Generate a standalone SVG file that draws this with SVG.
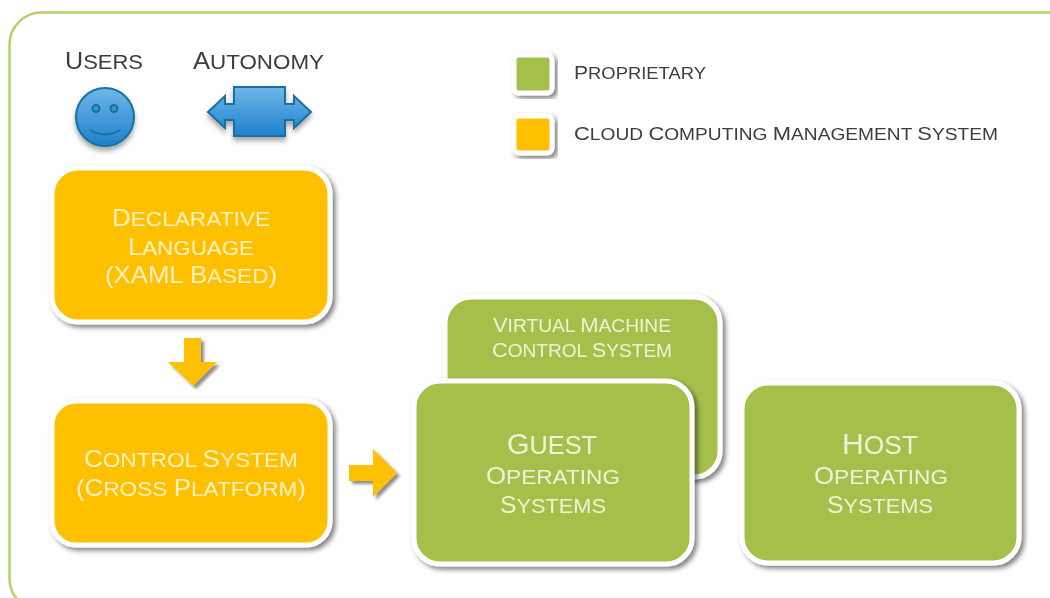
<svg xmlns="http://www.w3.org/2000/svg" width="1050" height="598" viewBox="0 0 1050 598">
<style>
text{font-family:"Liberation Sans",Arial,sans-serif;text-anchor:middle}
.l{font-size:.875em;text-transform:uppercase}
.w{fill:#eef3d8}.y{fill:#fff0c4}
.d{fill:#3c3c3c;text-anchor:start}
.card{stroke:#fff;stroke-width:5;filter:url(#sh)}
.g{fill:#a4c04b}.o{fill:#ffc000}
.blue{fill:url(#bl);stroke:#12729f;stroke-width:2;filter:url(#s2)}
</style>
<defs>
<filter id="sh" x="-10%" y="-10%" width="125%" height="125%"><feDropShadow dx="3" dy="3" stdDeviation="2.500" flood-color="#000" flood-opacity=".5"/></filter>
<filter id="s2" x="-20%" y="-20%" width="140%" height="150%"><feDropShadow dx="0" dy="4" stdDeviation="2.500" flood-color="#000" flood-opacity=".35"/></filter>
<filter id="s3" x="-30%" y="-30%" width="170%" height="170%"><feDropShadow dx="3" dy="3" stdDeviation="1.800" flood-color="#000" flood-opacity=".45"/></filter>
<filter id="b" filterUnits="userSpaceOnUse" x="0" y="0" width="1050" height="598"><feGaussianBlur stdDeviation=".4"/></filter>
<linearGradient id="bl" x1="0" y1="0" x2="0" y2="1"><stop offset="0" stop-color="#6fb6ea"/><stop offset="1" stop-color="#1f80cc"/></linearGradient>
</defs>
<rect x="9.500" y="12.500" width="1080" height="598" rx="32" fill="#fff" stroke="#b5d26a" stroke-width="2.500"/>
<g id="users" filter="url(#b)">
<text class="d" x="65" y="69" font-size="24" textLength="78" lengthAdjust="spacingAndGlyphs">U<tspan class="l">sers</tspan></text>
<circle class="blue" cx="105" cy="117" r="29"/>
<circle cx="96" cy="108.500" r="3.500" fill="#3f8fc8" stroke="#12729f" stroke-width="2"/>
<circle cx="114" cy="108.500" r="3.500" fill="#3f8fc8" stroke="#12729f" stroke-width="2"/>
<path d="M90 130Q105 139 120 130" fill="none" stroke="#12729f" stroke-width="2"/>
</g>
<g id="autonomy" filter="url(#b)">
<text class="d" x="193" y="69" font-size="24" textLength="131" lengthAdjust="spacingAndGlyphs">A<tspan class="l">utonomy</tspan></text>
<path class="blue" d="M208 112L225 96V104H234V87H285V104H294V96L311 112L294 128V120H285V136H234V120H225V128Z"/>
</g>
<g id="legend-proprietary" filter="url(#b)">
<rect class="card g" x="514" y="55" width="38" height="38" rx="5"/>
<text class="d" x="574" y="79" font-size="19" textLength="132" lengthAdjust="spacingAndGlyphs">P<tspan class="l">roprietary</tspan></text>
</g>
<g id="legend-cloud" filter="url(#b)">
<rect class="card o" x="514" y="116" width="38" height="37" rx="5"/>
<text class="d" x="574" y="140" font-size="19" textLength="424" lengthAdjust="spacingAndGlyphs">C<tspan class="l">loud </tspan>C<tspan class="l">omputing </tspan>M<tspan class="l">anagement </tspan>S<tspan class="l">ystem</tspan></text>
</g>
<g id="declarative" filter="url(#b)">
<rect class="card o" x="52" y="168" width="278" height="154" rx="26"/>
<text class="y" font-size="24" x="191" y="226" textLength="158" lengthAdjust="spacingAndGlyphs">D<tspan class="l">eclarative</tspan></text>
<text class="y" font-size="24" x="191" y="255" textLength="126" lengthAdjust="spacingAndGlyphs">L<tspan class="l">anguage</tspan></text>
<text class="y" font-size="24" x="191" y="283" textLength="172" lengthAdjust="spacingAndGlyphs">(XAML B<tspan class="l">ased</tspan>)</text>
</g>
<g id="control" filter="url(#b)">
<rect class="card o" x="52" y="401" width="278" height="144" rx="24"/>
<text class="y" font-size="24" x="191" y="467" textLength="214" lengthAdjust="spacingAndGlyphs">C<tspan class="l">ontrol </tspan>S<tspan class="l">ystem</tspan></text>
<text class="y" font-size="24" x="191" y="496" textLength="230" lengthAdjust="spacingAndGlyphs">(C<tspan class="l">ross </tspan>P<tspan class="l">latform</tspan>)</text>
</g>
<g id="vm" filter="url(#b)">
<rect class="card g" x="445" y="297" width="275" height="180" rx="26"/>
<text class="w" font-size="20" x="582" y="332" textLength="178" lengthAdjust="spacingAndGlyphs">V<tspan class="l">irtual </tspan>M<tspan class="l">achine</tspan></text>
<text class="w" font-size="20" x="582" y="357" textLength="180" lengthAdjust="spacingAndGlyphs">C<tspan class="l">ontrol </tspan>S<tspan class="l">ystem</tspan></text>
</g>
<g id="guest" filter="url(#b)">
<rect class="card g" x="414" y="381" width="278" height="183" rx="26"/>
<text class="w" x="552" y="454" font-size="29" textLength="90" lengthAdjust="spacingAndGlyphs">G<tspan class="l">uest</tspan></text>
<text class="w" x="553" y="484" font-size="24" textLength="134" lengthAdjust="spacingAndGlyphs">O<tspan class="l">perating</tspan></text>
<text class="w" x="553" y="513" font-size="24" textLength="106" lengthAdjust="spacingAndGlyphs">S<tspan class="l">ystems</tspan></text>
</g>
<g id="host" filter="url(#b)">
<rect class="card g" x="742" y="383" width="277" height="180" rx="26"/>
<text class="w" x="880" y="454" font-size="29" textLength="76" lengthAdjust="spacingAndGlyphs">H<tspan class="l">ost</tspan></text>
<text class="w" x="881" y="484" font-size="24" textLength="134" lengthAdjust="spacingAndGlyphs">O<tspan class="l">perating</tspan></text>
<text class="w" x="880" y="513" font-size="24" textLength="106" lengthAdjust="spacingAndGlyphs">S<tspan class="l">ystems</tspan></text>
</g>
<g id="connectors" fill="#ffc000" filter="url(#s3)">
<path d="M184 338H201V362H217L193 386L168 362H184Z"/>
<path d="M349 465H373V449L397 473L373 497V481H349Z"/>
</g>
</svg>
